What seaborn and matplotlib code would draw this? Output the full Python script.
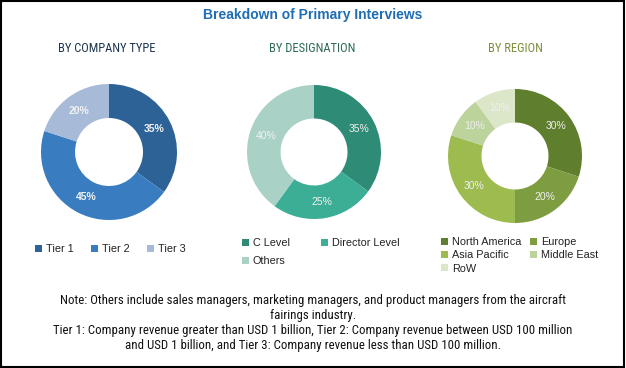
import matplotlib
matplotlib.use("Agg")
import matplotlib.pyplot as plt
import seaborn as sns
from matplotlib import font_manager
from matplotlib.patches import Rectangle

sns.set_theme(style="white")
plt.rcParams["font.family"] = ["Liberation Sans", "DejaVu Sans"]

# Data
company_labels = ["Tier 1", "Tier 2", "Tier 3"]
company_values = [35, 45, 20]
company_colors = ["#2D6296", "#3A7CC0", "#A7BAD7"]

designation_labels = ["C Level", "Director Level", "Others"]
designation_values = [35, 25, 40]
designation_colors = ["#2E8B75", "#3BAE95", "#A9D1C5"]

region_labels = ["North America", "Europe", "Asia Pacific", "Middle East", "RoW"]
region_values = [30, 20, 30, 10, 10]
region_colors = ["#5F7F2F", "#7E9C40", "#9DBB4F", "#BCD39B", "#DCE6C8"]

W, H = 626, 368
fig = plt.figure(figsize=(W / 100, H / 100), dpi=100)


# pick a condensed face if one is around
def narrow_font():
    for fam, st in [("Liberation Sans Narrow", "normal"), ("Roboto Condensed", "normal"),
                    ("DejaVu Sans", "condensed")]:
        try:
            p = font_manager.findfont(font_manager.FontProperties(family=fam, stretch=st),
                                      fallback_to_default=False)
        except ValueError:
            continue
        if "ondensed" in p or "Narrow" in p:
            return dict(family=fam, stretch=st), True
    return dict(family="Liberation Sans"), False


nfont, is_narrow = narrow_font()
note_size = 9.3 if is_narrow else 7.9
head_size = 9 if is_narrow else 8


def px_axes(cx, cy, r):
    return fig.add_axes([(cx - r) / W, (H - cy - r) / H, 2 * r / W, 2 * r / H])


def donut(cx, cy, r, values, colors, txt_color, weight):
    ax = px_axes(cx, cy, r)
    wedges, _, autotexts = ax.pie(
        values, colors=colors, startangle=90, counterclock=False,
        radius=1, autopct="%d%%", pctdistance=0.75,
        wedgeprops=dict(width=0.5, edgecolor="none"),
        textprops=dict(color=txt_color, fontsize=7.5, fontweight=weight))
    ax.set_xlim(-1, 1)
    ax.set_ylim(-1, 1)
    ax.set_aspect("equal")
    ax.axis("off")
    return ax, wedges


def legend(ax, handles, labels, x, y, ncol, rowgap, colgap):
    ax.legend(handles, labels, loc="upper left",
              bbox_to_anchor=(x / W, 1 - y / H), bbox_transform=fig.transFigure,
              ncol=ncol, frameon=False, fontsize=7.8,
              handlelength=0.65, handleheight=0.65, handletextpad=0.35,
              columnspacing=colgap, labelspacing=rowgap, borderpad=0,
              borderaxespad=0, labelcolor="#222222")


# Title and panel headings
fig.text(313 / W, 1 - 15 / H, "Breakdown of Primary Interviews", ha="center", va="center",
         fontsize=10, fontweight="bold", color="#1F6DB4")
fig.text(107 / W, 1 - 48 / H, "BY COMPANY TYPE", ha="center", va="center",
         fontsize=head_size, color="#1E3550", **nfont)
fig.text(312 / W, 1 - 48 / H, "BY DESIGNATION", ha="center", va="center",
         fontsize=head_size, color="#2E6A5A", **nfont)
fig.text(515 / W, 1 - 48 / H, "BY REGION", ha="center", va="center",
         fontsize=head_size, color="#7A8F3A", **nfont)

# Donuts
ax1, w1 = donut(109, 152, 68, company_values, company_colors, "#F2F2F2", "bold")
legend(ax1, w1, company_labels, 35, 244, 3, 0.5, 1.6)

ax2, w2 = donut(314, 152, 67, designation_values, designation_colors, "#F2F2F2", "normal")
order2 = [0, 2, 1]
legend(ax2, [w2[i] for i in order2], [designation_labels[i] for i in order2], 242, 238, 2, 0.75, 2.9)

ax3, w3 = donut(515, 156, 67, region_values, region_colors, "#F0F0F0", "normal")
order3 = [0, 2, 4, 1, 3]
legend(ax3, [w3[i] for i in order3], [region_labels[i] for i in order3], 441, 237, 2, 0.3, 0.85)

# Note
note = ("Note: Others include sales managers, marketing managers, and product managers from the aircraft\n"
        "fairings industry.\n"
        "Tier 1: Company revenue greater than USD 1 billion, Tier 2: Company revenue between USD 100 million\n"
        "and USD 1 billion, and Tier 3: Company revenue less than USD 100 million.")
fig.text(313 / W, 1 - 323 / H, note, ha="center", va="center", multialignment="center",
         fontsize=note_size, color="#111111", linespacing=1.2, **nfont)

# Frame
fig.patches.append(Rectangle((0.001, 0.002), 0.996, 0.995, transform=fig.transFigure,
                             fill=False, edgecolor="black", linewidth=1.5))

fig.savefig("out.png", dpi=100)
